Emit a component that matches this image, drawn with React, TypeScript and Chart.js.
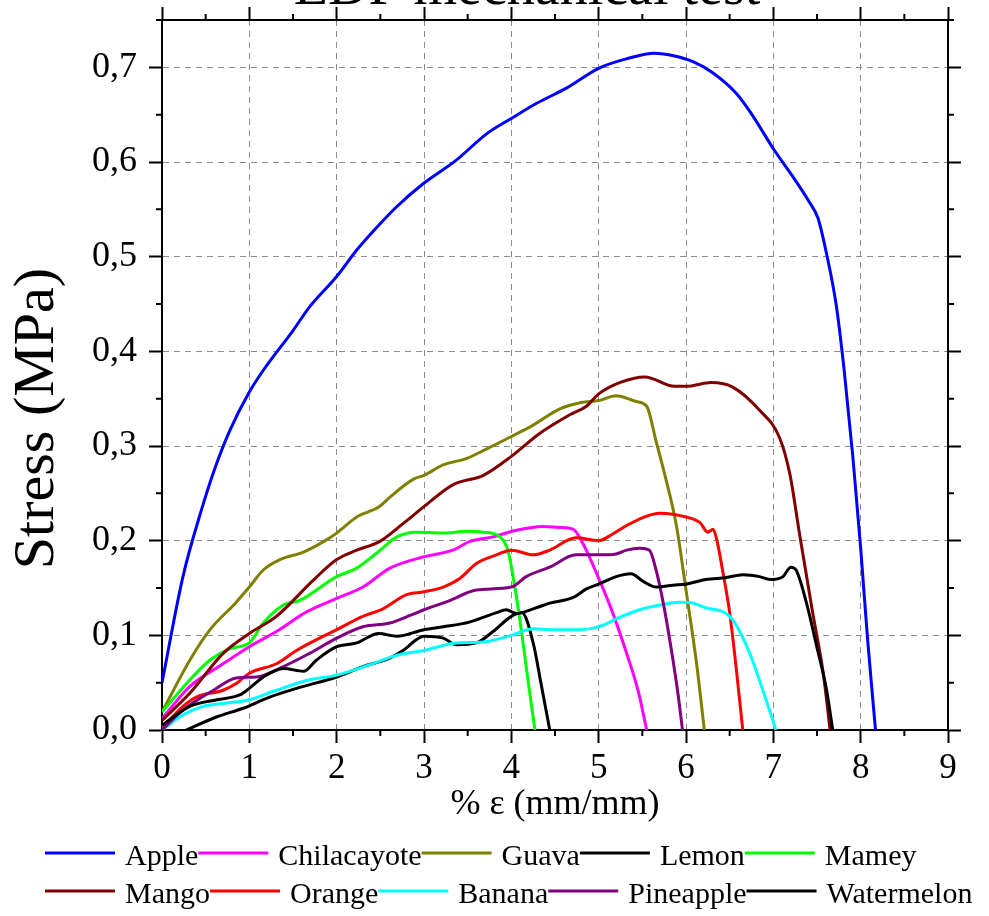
import React, { useEffect, useRef } from 'react';
import { Chart, registerables } from 'chart.js';

Chart.register(...registerables);

const SERIF = "'Liberation Serif', 'Times New Roman', serif";

const chartTitle = 'EDF mechanical test';
const xAxisTitle = '% ε (mm/mm)';
const yAxisTitle = 'Stress (MPa)';

const seriesNames = ['Apple', 'Chilacayote', 'Guava', 'Lemon', 'Mamey', 'Mango', 'Orange', 'Banana', 'Pineapple', 'Watermelon'];
const seriesColors = ['#0000ff', '#ff00ff', '#808000', '#000000', '#00ff00', '#800000', '#ff0000', '#00ffff', '#800080', '#000000'];

const appleX = [0, 0.24, 0.45, 0.6, 0.78, 1.0, 1.16, 1.5, 1.69, 2.0, 2.23, 2.45, 2.69, 2.99, 3.37, 3.72, 4.0, 4.29, 4.63, 5.0, 5.32, 5.64, 5.87, 6.08, 6.31, 6.58, 6.77, 7.0, 7.22, 7.41, 7.51, 7.6, 7.72, 7.81, 7.91, 8.0, 8.08, 8.17];
const appleY = [0.05, 0.162, 0.232, 0.275, 0.317, 0.357, 0.38, 0.422, 0.447, 0.479, 0.507, 0.53, 0.553, 0.577, 0.602, 0.63, 0.646, 0.662, 0.678, 0.699, 0.709, 0.715, 0.712, 0.706, 0.694, 0.672, 0.648, 0.614, 0.585, 0.558, 0.541, 0.507, 0.449, 0.381, 0.289, 0.192, 0.095, 0.0];

const chilacayoteX = [0, 0.32, 0.7, 1.0, 1.31, 1.66, 2.0, 2.3, 2.61, 3.0, 3.33, 3.52, 3.79, 4.06, 4.36, 4.55, 4.71, 4.82, 5.01, 5.16, 5.32, 5.45, 5.55];
const chilacayoteY = [0.012, 0.046, 0.07, 0.088, 0.104, 0.125, 0.139, 0.151, 0.171, 0.183, 0.19, 0.199, 0.204, 0.211, 0.215, 0.214, 0.212, 0.197, 0.158, 0.124, 0.081, 0.042, 0.0];

const guavaX = [0, 0.32, 0.55, 0.84, 1.0, 1.16, 1.35, 1.62, 1.85, 2.0, 2.23, 2.49, 2.61, 2.88, 3.0, 3.22, 3.49, 3.72, 4.0, 4.25, 4.55, 4.8, 5.0, 5.2, 5.43, 5.55, 5.66, 5.77, 5.89, 6.0, 6.12, 6.21];
const guavaY = [0.019, 0.074, 0.106, 0.134, 0.151, 0.169, 0.18, 0.188, 0.199, 0.208, 0.225, 0.236, 0.246, 0.265, 0.269, 0.28, 0.287, 0.297, 0.31, 0.322, 0.339, 0.346, 0.348, 0.353, 0.347, 0.342, 0.304, 0.265, 0.216, 0.148, 0.071, 0.0];

const lemonX = [0.28, 0.63, 0.93, 1.24, 1.54, 2.0, 2.3, 2.61, 2.76, 3.0, 3.22, 3.37, 3.6, 3.79, 4.0, 4.12, 4.25, 4.34, 4.44];
const lemonY = [0.0, 0.014, 0.023, 0.035, 0.044, 0.056, 0.067, 0.076, 0.084, 0.099, 0.097, 0.09, 0.092, 0.104, 0.12, 0.124, 0.092, 0.049, 0.0];

const mameyX = [0, 0.32, 0.55, 0.78, 1.0, 1.16, 1.39, 1.58, 2.0, 2.23, 2.46, 2.69, 2.91, 3.22, 3.49, 3.68, 3.87, 3.96, 4.04, 4.12, 4.19, 4.27];
const mameyY = [0.019, 0.053, 0.074, 0.086, 0.092, 0.113, 0.132, 0.137, 0.162, 0.171, 0.187, 0.204, 0.209, 0.208, 0.21, 0.209, 0.204, 0.19, 0.151, 0.102, 0.053, 0.0];

const mangoX = [0, 0.32, 0.7, 1.0, 1.31, 1.73, 2.0, 2.23, 2.49, 2.76, 3.0, 3.33, 3.68, 4.0, 4.32, 4.67, 4.86, 5.0, 5.24, 5.53, 5.87, 6.0, 6.29, 6.54, 6.84, 7.07, 7.19, 7.3, 7.45, 7.57, 7.65];
const mangoY = [0.01, 0.039, 0.081, 0.102, 0.12, 0.158, 0.18, 0.19, 0.199, 0.218, 0.236, 0.259, 0.269, 0.289, 0.313, 0.333, 0.342, 0.355, 0.367, 0.373, 0.363, 0.363, 0.367, 0.362, 0.338, 0.309, 0.27, 0.207, 0.124, 0.061, 0.0];

const orangeX = [0, 0.24, 0.4, 0.7, 0.85, 1.0, 1.31, 1.54, 2.0, 2.3, 2.53, 2.8, 3.0, 3.22, 3.41, 3.6, 3.83, 4.0, 4.25, 4.44, 4.74, 5.0, 5.16, 5.32, 5.55, 5.7, 6.0, 6.16, 6.25, 6.31, 6.35, 6.42, 6.5, 6.58, 6.65];
const orangeY = [0.002, 0.025, 0.035, 0.042, 0.049, 0.06, 0.07, 0.084, 0.106, 0.12, 0.128, 0.143, 0.146, 0.151, 0.16, 0.176, 0.185, 0.19, 0.185, 0.19, 0.203, 0.2, 0.207, 0.216, 0.226, 0.229, 0.225, 0.219, 0.209, 0.212, 0.202, 0.168, 0.124, 0.061, 0.0];

const bananaX = [0, 0.24, 0.47, 0.7, 1.0, 1.31, 1.69, 2.0, 2.38, 2.69, 3.0, 3.37, 3.68, 4.0, 4.25, 4.44, 4.78, 5.0, 5.24, 5.47, 5.7, 5.93, 6.08, 6.23, 6.46, 6.58, 6.73, 6.88, 7.03];
const bananaY = [0.0, 0.016, 0.025, 0.028, 0.032, 0.042, 0.053, 0.058, 0.069, 0.079, 0.084, 0.092, 0.093, 0.1, 0.107, 0.106, 0.106, 0.109, 0.119, 0.127, 0.132, 0.135, 0.134, 0.129, 0.123, 0.11, 0.081, 0.042, 0.0];

const pineappleX = [0, 0.24, 0.59, 0.85, 1.08, 1.39, 1.69, 2.0, 2.3, 2.61, 2.84, 3.0, 3.3, 3.6, 4.0, 4.17, 4.44, 4.74, 5.0, 5.2, 5.32, 5.47, 5.58, 5.66, 5.74, 5.83, 5.91, 5.96];
const pineappleY = [0.0, 0.021, 0.042, 0.055, 0.056, 0.067, 0.081, 0.097, 0.109, 0.113, 0.121, 0.127, 0.137, 0.148, 0.151, 0.162, 0.172, 0.185, 0.185, 0.186, 0.19, 0.192, 0.19, 0.168, 0.134, 0.086, 0.037, 0.0];

const watermelonX = [0, 0.32, 0.63, 0.89, 1.0, 1.16, 1.39, 1.62, 1.77, 2.0, 2.23, 2.48, 2.69, 3.0, 3.22, 3.52, 3.83, 3.94, 4.06, 4.25, 4.44, 4.71, 4.86, 5.0, 5.2, 5.37, 5.51, 5.66, 5.85, 6.0, 6.23, 6.46, 6.65, 6.84, 6.96, 7.11, 7.2, 7.26, 7.38, 7.49, 7.61, 7.68];
const watermelonY = [0.005, 0.025, 0.032, 0.037, 0.044, 0.056, 0.065, 0.062, 0.074, 0.088, 0.092, 0.102, 0.099, 0.106, 0.109, 0.114, 0.124, 0.127, 0.123, 0.128, 0.134, 0.14, 0.149, 0.154, 0.162, 0.165, 0.157, 0.151, 0.153, 0.154, 0.159, 0.161, 0.164, 0.162, 0.159, 0.162, 0.172, 0.169, 0.134, 0.091, 0.042, 0.0];

const seriesX = [appleX, chilacayoteX, guavaX, lemonX, mameyX, mangoX, orangeX, bananaX, pineappleX, watermelonX];
const seriesY = [appleY, chilacayoteY, guavaY, lemonY, mameyY, mangoY, orangeY, bananaY, pineappleY, watermelonY];

const xMin = 0;
const xMax = 9;
const yMin = 0;
const yMax = 0.75;
const xMinorTicks = [0.5, 1.5, 2.5, 3.5, 4.5, 5.5, 6.5, 7.5, 8.5];
const yMinorTicks = [0.05, 0.15, 0.25, 0.35, 0.45, 0.55, 0.65, 0.75];

const clearPadding = (s: any) => {
  s.paddingTop = 0;
  s.paddingBottom = 0;
  s.paddingLeft = 0;
  s.paddingRight = 0;
};

const decorPlugin = {
  id: 'decor',
  afterDraw(chart: any) {
    const ctx = chart.ctx;
    const xs = chart.scales.x;
    const ys = chart.scales.y;
    const area = chart.chartArea;
    ctx.save();
    ctx.strokeStyle = '#000';
    ctx.lineWidth = 2;
    ctx.beginPath();
    xMinorTicks.forEach((v) => {
      const px = xs.getPixelForValue(v);
      ctx.moveTo(px, area.bottom);
      ctx.lineTo(px, area.bottom + 6);
      ctx.moveTo(px, area.top);
      ctx.lineTo(px, area.top - 6);
    });
    yMinorTicks.forEach((v) => {
      const py = ys.getPixelForValue(v);
      ctx.moveTo(area.left, py);
      ctx.lineTo(area.left - 6, py);
      ctx.moveTo(area.right, py);
      ctx.lineTo(area.right + 6, py);
    });
    ctx.stroke();

    ctx.fillStyle = '#000';
    ctx.font = `56px ${SERIF}`;
    ctx.textAlign = 'center';
    ctx.textBaseline = 'alphabetic';
    ctx.fillText(chartTitle, 527, 4);

    ctx.font = `30px ${SERIF}`;
    ctx.textAlign = 'left';
    const rows = [
      { lineY: 853, textY: 865 },
      { lineY: 891, textY: 903 },
    ];
    let cursor = 45;
    chart.data.datasets.forEach((ds: any, i: number) => {
      const row = rows[Math.floor(i / 5)];
      if (i % 5 === 0) cursor = 45;
      ctx.strokeStyle = ds.borderColor;
      ctx.lineWidth = 3;
      ctx.beginPath();
      ctx.moveTo(cursor, row.lineY);
      ctx.lineTo(cursor + 70, row.lineY);
      ctx.stroke();
      ctx.fillStyle = '#000';
      ctx.fillText(ds.label, cursor + 80, row.textY);
      cursor += 80 + ctx.measureText(ds.label).width;
    });
    ctx.restore();
  },
};

export default function App() {
  const ref = useRef<HTMLCanvasElement>(null);

  useEffect(() => {
    const canvas = ref.current;
    if (!canvas) return;
    const datasets = seriesNames.map((name, i) => ({
      label: name,
      data: seriesX[i].map((x, j) => ({ x, y: seriesY[i][j] })),
      borderColor: seriesColors[i],
      backgroundColor: seriesColors[i],
      borderWidth: 3,
      pointRadius: 0,
      pointHoverRadius: 0,
      cubicInterpolationMode: 'monotone',
      fill: false,
      order: -i,
    }));

    const tickFont = { family: SERIF, size: 35 };

    const chart = new Chart(canvas, {
      type: 'line',
      data: { datasets },
      options: {
        animation: false,
        responsive: false,
        devicePixelRatio: 1,
        events: [],
        layout: { autoPadding: false, padding: { left: 0, right: 0, top: 0, bottom: 86 } },
        plugins: {
          legend: { display: false },
          tooltip: { enabled: false },
          title: { display: false },
        },
        scales: {
          x: {
            type: 'linear',
            position: 'bottom',
            min: xMin,
            max: xMax,
            ticks: {
              stepSize: 1,
              includeBounds: false,
              autoSkip: false,
              maxRotation: 0,
              color: '#000',
              font: tickFont,
              padding: 5,
              callback: (v: any) => String(Math.round(Number(v))),
            },
            grid: {
              color: '#8c8c8c',
              lineWidth: 1,
              drawTicks: true,
              tickLength: 13,
              tickColor: '#000',
              tickWidth: 2,
            },
            border: { display: true, color: '#000', width: 2, dash: [6, 5] },
            title: {
              display: true,
              text: xAxisTitle,
              color: '#000',
              font: { family: SERIF, size: 36 },
              padding: { top: 0, bottom: 4 },
            },
            afterFit: (s: any) => {
              s.height = 100;
              clearPadding(s);
            },
          },
          x2: {
            type: 'linear',
            position: 'top',
            min: xMin,
            max: xMax,
            ticks: { stepSize: 1, includeBounds: false, display: false },
            grid: {
              drawOnChartArea: false,
              drawTicks: true,
              tickLength: 13,
              tickColor: '#000',
              tickWidth: 2,
              color: '#000',
            },
            border: { display: true, color: '#000', width: 2 },
            afterFit: (s: any) => {
              s.height = 20;
              clearPadding(s);
            },
          },
          y: {
            type: 'linear',
            position: 'left',
            min: yMin,
            max: yMax,
            ticks: {
              stepSize: 0.1,
              includeBounds: false,
              color: '#000',
              font: { family: SERIF, size: 36 },
              padding: 12,
              callback: (v: any) => Number(v).toFixed(1).replace('.', ','),
            },
            grid: {
              color: '#8c8c8c',
              lineWidth: 1,
              drawTicks: true,
              tickLength: 13,
              tickColor: '#000',
              tickWidth: 2,
            },
            border: { display: true, color: '#000', width: 2, dash: [6, 5] },
            title: {
              display: true,
              text: yAxisTitle + '\u00A0\u00A0\u00A0\u00A0\u00A0\u00A0',
              color: '#000',
              font: { family: SERIF, size: 58 },
              padding: { top: 3, bottom: 0 },
            },
            afterFit: (s: any) => {
              s.width = 162;
              clearPadding(s);
            },
          },
          y2: {
            type: 'linear',
            position: 'right',
            min: yMin,
            max: yMax,
            ticks: { stepSize: 0.1, includeBounds: false, display: false },
            grid: {
              drawOnChartArea: false,
              drawTicks: true,
              tickLength: 13,
              tickColor: '#000',
              tickWidth: 2,
              color: '#000',
            },
            border: { display: true, color: '#000', width: 2 },
            afterFit: (s: any) => {
              s.width = 41;
              clearPadding(s);
            },
          },
        },
      } as any,
      plugins: [decorPlugin],
    });
    return () => chart.destroy();
  }, []);

  return (
    <div style={{ position: 'absolute', left: 0, top: 0, width: 989, height: 916, background: '#fff' }}>
      <canvas ref={ref} width={989} height={916} style={{ display: 'block', width: 989, height: 916 }} />
    </div>
  );
}
